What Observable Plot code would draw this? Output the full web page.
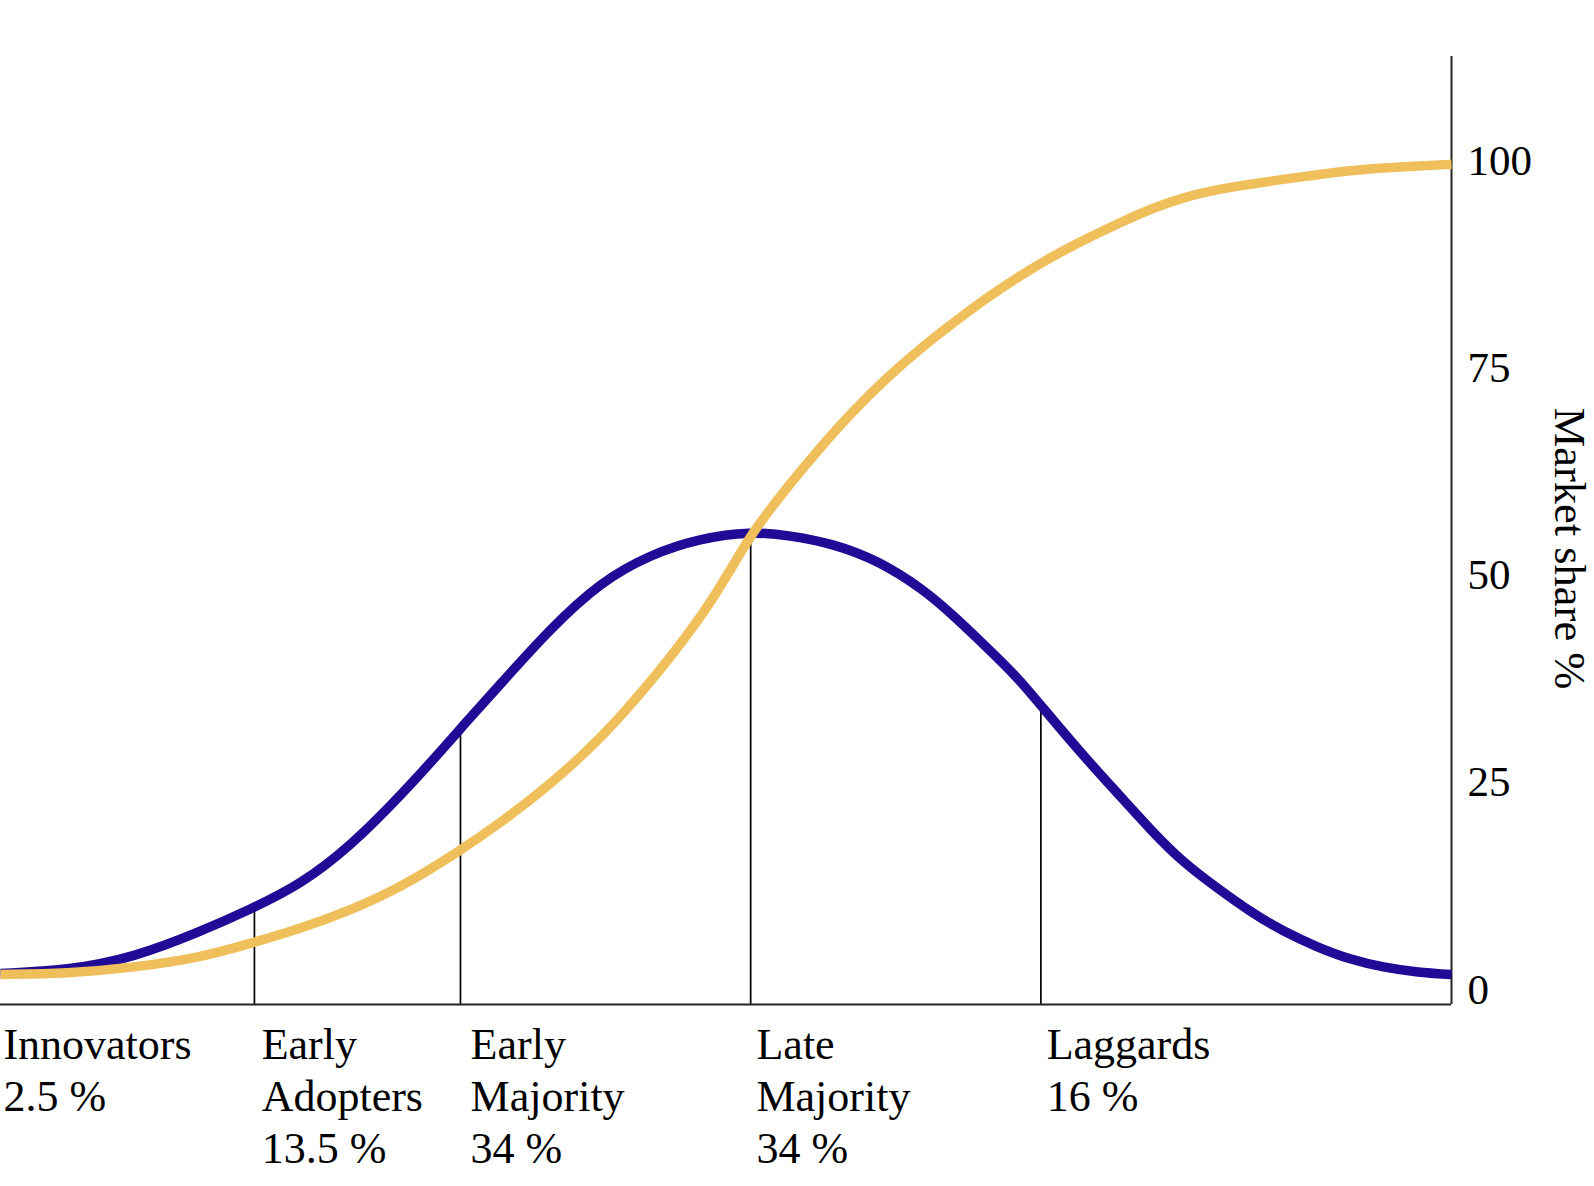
<!DOCTYPE html>
<html>
<head>
<meta charset="utf-8">
<script src="https://cdn.jsdelivr.net/npm/d3@7"></script>
<script src="https://cdn.jsdelivr.net/npm/@observablehq/plot@0.6"></script>
<style>
  html, body { margin: 0; padding: 0; background: #fff; }
  #chart svg { display: block; }
</style>
</head>
<body>
<div id="chart"></div>
<script>
// Time axis (arbitrary units 0–100) and market share %
// Bell curve: adopters per period
const adoptionX = [0, 4.6, 9.2, 13.8, 17.2, 20.7, 24.1, 27.6, 31.0, 31.7, 34.5, 37.9, 41.4, 44.8, 48.2, 51.7, 54.4, 57.3, 60.5, 63.7, 65.5, 67.7, 70.1, 71.7, 74.6, 77.0, 79.3, 81.5, 83.9, 86.1, 88.4, 90.8, 93.0, 95.3, 97.7, 100];
const adoptionY = [1.99, 2.35, 3.92, 7.06, 9.71, 12.73, 17.31, 23.46, 30.10, 31.55, 36.98, 43.61, 49.28, 52.54, 54.47, 55.31, 54.83, 53.87, 51.82, 48.20, 45.43, 41.80, 37.70, 34.32, 28.29, 23.71, 19.24, 15.38, 12.24, 9.47, 7.06, 5.13, 3.68, 2.72, 2.11, 1.87];

// S-curve: cumulative market share
const shareX = [0, 4.6, 9.2, 13.8, 17.2, 20.7, 24.1, 27.6, 31.7, 34.5, 37.9, 41.4, 44.8, 48.2, 50.3, 51.8, 54.2, 56.5, 58.8, 61.1, 63.4, 65.7, 68.0, 70.3, 72.6, 74.9, 77.2, 79.5, 81.8, 84.1, 89.3, 93.5, 97.2, 100];
const shareY = [1.87, 1.99, 2.71, 3.92, 5.61, 7.42, 9.59, 12.36, 16.83, 20.21, 24.79, 30.34, 37.10, 44.70, 50.61, 55.19, 60.62, 65.45, 69.91, 73.89, 77.39, 80.53, 83.54, 86.20, 88.61, 90.66, 92.59, 94.40, 95.73, 96.69, 98.02, 98.99, 99.35, 99.60];

// Segment boundaries and the height of the bell curve there
const boundaryX = [17.5, 31.7, 51.7, 71.7];
const boundaryTop = [9.83, 32.19, 55.0, 34.08];

// Adopter categories
const categories = ["Innovators", "Early\nAdopters", "Early\nMajority", "Late\nMajority", "Laggards"];
const shares = ["2.5 %", "13.5 %", "34 %", "34 %", "16 %"];
const labelX = [0.2, 18.0, 32.4, 52.1, 72.1];

const yTicks = [0, 25, 50, 75, 100];
const yTitle = "Market share %";

const yMin = -1.75, yMax = 112.6;

const adoption = adoptionX.map((x, i) => ({x, y: adoptionY[i]}));
const share = shareX.map((x, i) => ({x, y: shareY[i]}));
const bounds = boundaryX.map((x, i) => ({x, top: boundaryTop[i]}));
const labels = categories.map((c, i) => ({x: labelX[i], text: c + "\n" + shares[i]}));

const plot = Plot.plot({
  width: 1594,
  height: 1186,
  marginTop: 56,
  marginBottom: 182,
  marginLeft: 0,
  marginRight: 143,
  style: {fontFamily: "'Liberation Serif', 'Times New Roman', serif", background: "#fff", color: "#000"},
  x: {domain: [0, 100], axis: null},
  y: {domain: [yMin, yMax], axis: null},
  marks: [
    Plot.ruleX(bounds, {x: "x", y1: yMin, y2: "top", stroke: "#000", strokeWidth: 1.7}),
    Plot.ruleY([yMin], {stroke: "#222", strokeWidth: 2}),
    Plot.ruleX([100], {stroke: "#222", strokeWidth: 2}),
    Plot.line(adoption, {x: "x", y: "y", stroke: "#200a96", strokeWidth: 9.5, curve: "basis", strokeLinecap: "butt"}),
    Plot.line(share, {x: "x", y: "y", stroke: "#efbf5b", strokeWidth: 9.5, curve: "basis", strokeLinecap: "butt"}),
    Plot.axisY({anchor: "right", ticks: yTicks, tickSize: 0, tickPadding: 16, fontSize: 43, label: null, tickFormat: d => String(d)}),
    Plot.text([yTitle], {text: d => d, frameAnchor: "right", textAnchor: "middle", lineAnchor: "middle", rotate: 90, dx: 118, dy: 18, fontSize: 44.5, fill: "#000"}),
    Plot.text(labels, {x: "x", text: "text", frameAnchor: "bottom", textAnchor: "start", lineAnchor: "top", lineHeight: 1.19, dy: 17, fontSize: 44, fill: "#000"})
  ]
});
document.getElementById("chart").appendChild(plot);
</script>
</body>
</html>
